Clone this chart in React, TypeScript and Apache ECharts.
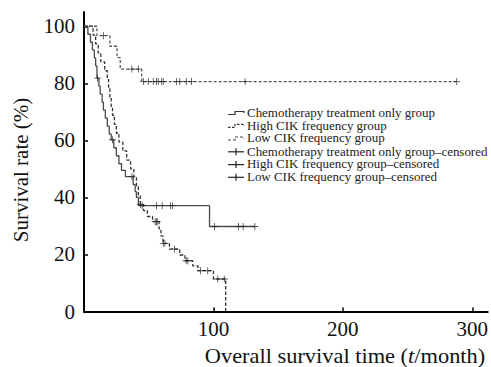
import React, { useEffect, useRef } from "react";
import * as echarts from "echarts";

// Chemotherapy treatment only group (solid)
const chemoT = [0, 3, 5, 6.5, 8, 9, 10, 11.5, 12.5, 14, 15, 16.5, 18, 19.5, 21, 23, 25, 27, 29, 32, 38, 39.5, 40.5, 42, 97, 132];
const chemoS = [100, 97.2, 94.4, 91.7, 88.9, 86.1, 81.8, 79, 76.2, 73.4, 70.6, 67.8, 65, 62.2, 60.2, 57.4, 54.6, 51.8, 49.5, 47.3, 44.5, 42, 40, 37.1, 29.8, 29.8];
const chemoCensT = [10.5, 22, 37, 45, 56, 60.4, 66.8, 68.4, 100.8, 119.4, 123, 132];
const chemoCensS = [81.8, 60.2, 47.3, 37.1, 37.1, 37.1, 37.1, 37.1, 29.8, 29.8, 29.8, 29.8];

// High CIK frequency group (dashed)
const highT = [0, 7, 9, 11, 13, 16, 18, 19, 20, 21, 22, 23.5, 25, 27, 30, 33, 36, 38.5, 40.5, 42, 43.5, 46, 49, 53, 58, 59.5, 61, 66, 74, 78, 84, 88, 100, 109.5];
const highS = [100, 96.9, 93.8, 90.6, 87.5, 84.4, 81.3, 78.1, 75, 71.9, 68.8, 65.6, 62.5, 59.4, 56.3, 53.1, 50, 46.9, 43.8, 40.6, 37.5, 35.4, 33.3, 31.5, 29, 26.5, 23.9, 21.9, 19.8, 17.8, 16, 14.3, 11.4, 0];
const highCensT = [43.8, 55, 56, 56.6, 61.3, 62.5, 70, 79, 80.2, 90, 95.6, 103.3, 108.4];
const highCensS = [37.5, 31.5, 31.5, 31.5, 23.9, 23.9, 21.9, 17.8, 17.8, 14.3, 14.3, 11.4, 11.4];

// Low CIK frequency group (dotted)
const lowT = [0, 10, 20, 25.5, 28, 44.6, 288];
const lowS = [100, 96.7, 93, 89, 85, 80.6, 80.6];
const lowCensT = [15, 37, 42, 45.9, 49.7, 53.5, 56.1, 57.4, 60, 61.2, 71.4, 74, 79, 83, 124.5, 288];
const lowCensS = [96.7, 85, 85, 80.6, 80.6, 80.6, 80.6, 80.6, 80.6, 80.6, 80.6, 80.6, 80.6, 80.6, 80.6, 80.6];

const xTicks = [100, 200, 300];
const yTicks = [0, 20, 40, 60, 80, 100];

const legendNames = [
  "Chemotherapy treatment only group",
  "High CIK frequency group",
  "Low CIK frequency group",
  "Chemotherapy treatment only group–censored",
  "High CIK frequency group–censored",
  "Low CIK frequency group–censored",
];

const zip = (t: number[], s: number[]) => t.map((v, i) => [v, s[i]]);

export default function App() {
  const ref = useRef<HTMLDivElement>(null);
  useEffect(() => {
    const chart = echarts.init(ref.current!, null, { renderer: "svg" });
    const serif = "Liberation Serif";
    const plus = "path://M0,4.4H10V5.6H0Z M4.4,0H5.6V10H4.4Z";
    const censored = (name: string, t: number[], s: number[]) => ({
      name,
      type: "scatter",
      data: zip(t, s),
      symbol: plus,
      symbolSize: [7, 7],
      itemStyle: { color: "#222" },
      z: 5,
    });
    const legendRows = [113, 125.8, 138.5, 151.8, 164.6, 177.3];
    const legendGraphics: any[] = [];
    const lx0 = 228, lx1 = 244;
    const stepPts = (y: number) => [[lx0, y + 1.5], [lx0 + 7, y + 1.5], [lx0 + 7, y - 1.5], [lx1, y - 1.5], [lx1, y]];
    legendGraphics.push({ type: "polyline", shape: { points: stepPts(legendRows[0]) }, style: { stroke: "#333", lineWidth: 1.2, fill: null } });
    legendGraphics.push({ type: "polyline", shape: { points: stepPts(legendRows[1]) }, style: { stroke: "#333", lineWidth: 1.2, fill: null, lineDash: [2.5, 1.5] } });
    legendGraphics.push({ type: "polyline", shape: { points: stepPts(legendRows[2]) }, style: { stroke: "#444", lineWidth: 1.2, fill: null, lineDash: [3, 2] } });
    for (let i = 3; i < 6; i++) {
      const y = legendRows[i];
      legendGraphics.push({ type: "line", shape: { x1: lx0, y1: y, x2: lx1, y2: y }, style: { stroke: "#222", lineWidth: 1.2 } });
      legendGraphics.push({ type: "line", shape: { x1: (lx0 + lx1) / 2, y1: y - 3.5, x2: (lx0 + lx1) / 2, y2: y + 3.5 }, style: { stroke: "#222", lineWidth: 1.2 } });
    }
    legendNames.forEach((n, i) => {
      legendGraphics.push({
        type: "text",
        x: 247,
        y: legendRows[i],
        scaleX: 1.08,
        style: { text: n, fontSize: 12, lineHeight: 12, fontFamily: serif, fill: "#222", verticalAlign: "middle", align: "left" },
      });
    });

    chart.setOption({
      animation: false,
      backgroundColor: "#fff",
      grid: { left: 84, right: 0, top: 12, bottom: 55.5, containLabel: false },
      xAxis: {
        type: "value",
        min: 0,
        max: 312,
        axisLine: { lineStyle: { color: "#000", width: 2 } },
        axisTick: { inside: true, length: 4, customValues: xTicks, lineStyle: { color: "#000", width: 1.5 } },
        axisLabel: { customValues: xTicks, fontSize: 21, fontFamily: serif, color: "#111", margin: 7 },
        splitLine: { show: false },
      },
      yAxis: {
        type: "value",
        min: 0,
        max: 105,
        axisLine: { show: true, lineStyle: { color: "#000", width: 2 } },
        axisTick: { show: true, inside: true, length: 4, customValues: yTicks, lineStyle: { color: "#000", width: 1.5 } },
        axisLabel: { customValues: yTicks, fontSize: 21, fontFamily: serif, color: "#111", margin: 9 },
        splitLine: { show: false },
      },
      graphic: [
        {
          type: "text",
          x: 21,
          y: 170,
          rotation: Math.PI / 2,
          scaleX: 1.05,
          style: { text: "Survival rate (%)", fontSize: 20, fontFamily: serif, fill: "#111", align: "center", verticalAlign: "middle" },
        },
        {
          type: "text",
          x: 345,
          y: 356,
          scaleX: 1.12,
          style: {
            text: "Overall survival time ({it|t}/month)",
            fontSize: 20,
            fontFamily: serif,
            fill: "#111",
            align: "center",
            verticalAlign: "middle",
            rich: { it: { fontStyle: "italic", fontSize: 20, fontFamily: serif, fill: "#111" } },
          },
        },
        ...legendGraphics,
      ],
      series: [
        {
          name: legendNames[0],
          type: "line",
          step: "end",
          data: zip(chemoT, chemoS),
          symbol: "none",
          lineStyle: { color: "#4a4a4a", width: 1.3 },
          z: 3,
        },
        {
          name: legendNames[1],
          type: "line",
          step: "end",
          data: zip(highT, highS),
          symbol: "none",
          lineStyle: { color: "#333", width: 1.3, type: [3.5, 2] },
          z: 3,
        },
        {
          name: legendNames[2],
          type: "line",
          step: "end",
          data: zip(lowT, lowS),
          symbol: "none",
          lineStyle: { color: "#555", width: 1.3, type: [3, 2] },
          z: 3,
        },
        censored(legendNames[3], chemoCensT, chemoCensS),
        censored(legendNames[4], highCensT, highCensS),
        censored(legendNames[5], lowCensT, lowCensS),
      ],
    });
    return () => chart.dispose();
  }, []);
  return <div ref={ref} style={{ position: "fixed", left: 0, top: 0, width: 491, height: 367 }} />;
}
